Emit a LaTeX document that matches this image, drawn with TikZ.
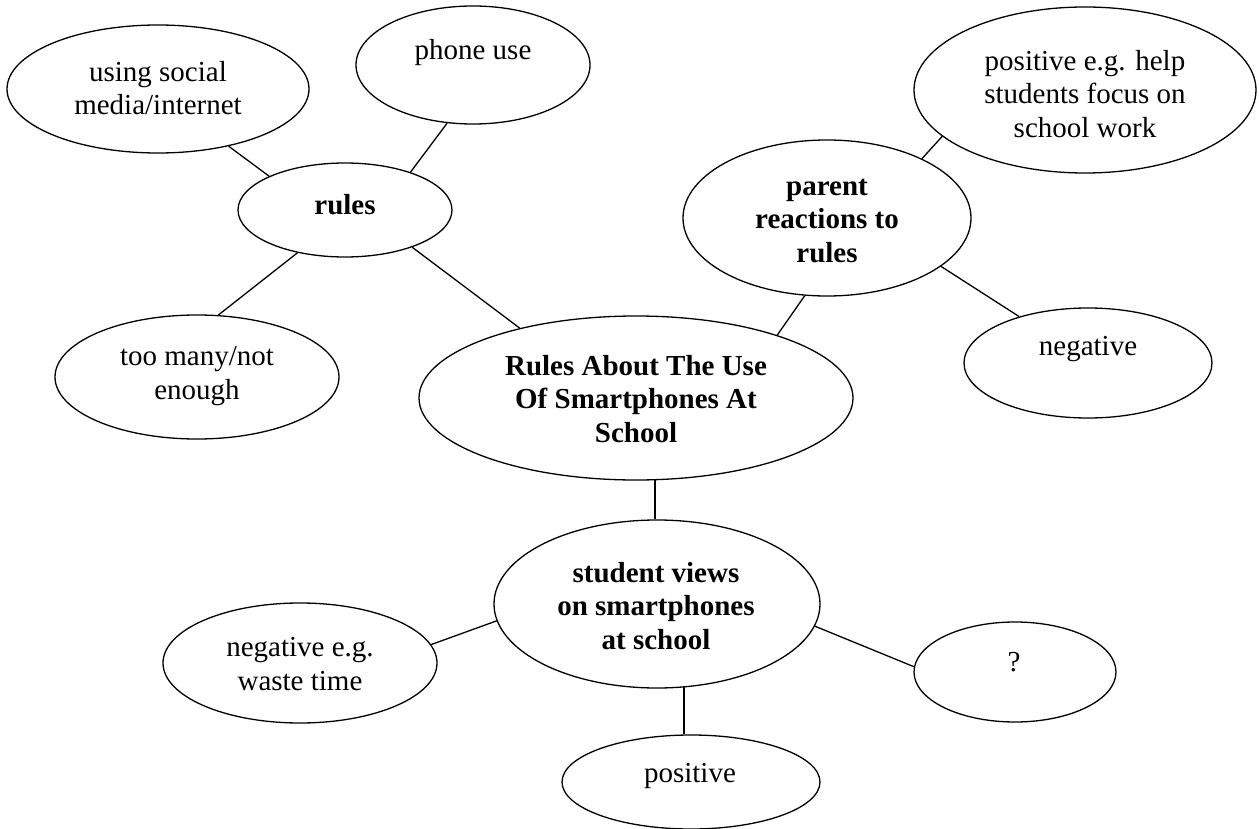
\documentclass[tikz,border=0pt]{standalone}
\usepackage{fontspec}
\setmainfont{Liberation Serif}
\usetikzlibrary{shapes.geometric}
\begin{document}
\begin{tikzpicture}[x=1pt,y=-1pt,
  bubble/.style={draw, line width=1.3pt, ellipse, inner sep=0pt},
  txt/.style={align=center, inner sep=0pt, font=\fontsize{29}{33.5}\selectfont},
  btxt/.style={align=center, inner sep=0pt, font=\fontsize{29}{33.5}\selectfont\bfseries},
  link/.style={line width=1.3pt}]
\useasboundingbox (0,0) rectangle (1259,829);

% ellipses
\node[bubble, minimum width=302pt, minimum height=128pt] (social) at (158,89) {};
\node[bubble, minimum width=234pt, minimum height=118pt] (phone) at (473,65) {};
\node[bubble, minimum width=214pt, minimum height=94pt] (rules) at (345,210) {};
\node[bubble, minimum width=284pt, minimum height=124pt] (toomany) at (197,377) {};
\node[bubble, minimum width=434pt, minimum height=164pt] (main) at (636,398) {};
\node[bubble, minimum width=288pt, minimum height=156pt] (parent) at (827,218) {};
\node[bubble, minimum width=342pt, minimum height=166pt] (poshelp) at (1085,90) {};
\node[bubble, minimum width=248pt, minimum height=110pt] (negparent) at (1088,363) {};
\node[bubble, minimum width=326pt, minimum height=168pt] (student) at (657,604) {};
\node[bubble, minimum width=274pt, minimum height=120pt] (negstudent) at (300,663) {};
\node[bubble, minimum width=202pt, minimum height=100pt] (question) at (1015,672) {};
\node[bubble, minimum width=258pt, minimum height=94pt] (positive) at (691,782) {};

% texts
\node[txt] (socialT) at (158,88) {using social\\media/internet};
\node[txt] (phoneT) at (473,53) {phone use};
\node[btxt] (rulesT) at (345,205) {rules};
\node[txt] (toomanyT) at (197,376) {too many/not\\enough};
\node[btxt] (mainT) at (636,399) {Rules About The Use\\Of Smartphones At\\School};
\node[btxt] (parentT) at (827,221) {parent\\reactions to\\rules};
\node[txt] (poshelpT) at (1085,94) {positive e.g. help\\students focus on\\school work};
\node[txt] (negparentT) at (1088,349) {negative};
\node[btxt] (studentT) at (656,606) {student views\\on smartphones\\at school};
\node[txt] (negstudentT) at (300,664) {negative e.g.\\waste time};
\node[txt] (questionT) at (1014,662) {?};
\node[txt] (positiveT) at (690,776) {positive};

% connectors
\draw[link] (social.-39.6) -- (rules.156.8);
\draw[link] (phone.-114.1) -- (rules.30.7);
\draw[link] (rules.-138.1) -- (toomany.71.3);
\draw[link] (rules.-29.6) -- (main.149.5);
\draw[link] (main.24.4) -- (parent.-106.9);
\draw[link] (parent.32.7) -- (poshelp.-162.2);
\draw[link] (parent.-23.1) -- (negparent.146.5);
\draw[link] (main.-77.8) -- (main.-77.8 |- student.north);
\draw[link] (student.186.1) -- (negstudent.8.2);
\draw[link] (student.-8.6) -- (question.177.7);
\draw[link] (student.-72.8) -- (student.-72.8 |- positive.north);
\end{tikzpicture}
\end{document}
